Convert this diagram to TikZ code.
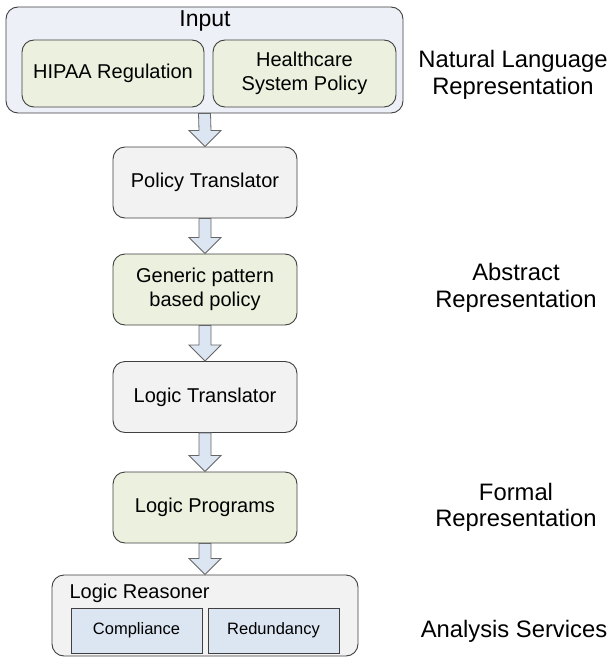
\documentclass[tikz,border=0pt]{standalone}
\usepackage{fontspec}
\setmainfont{Liberation Sans}
\usetikzlibrary{calc}
\definecolor{bordc}{HTML}{404040}
\definecolor{inpfill}{HTML}{EEF0F7}
\definecolor{greenf}{HTML}{EBF1DE}
\definecolor{grayf}{HTML}{F2F2F2}
\definecolor{bluef}{HTML}{DCE6F2}
\tikzset{
  base/.style={draw=bordc, line width=0.9pt, rectangle, inner sep=0pt, align=center},
  outerbox/.style={base, rounded corners=12pt},
  greenbox/.style={base, fill=greenf, rounded corners=12pt, font=\fontsize{20}{24}\selectfont},
  graybox/.style={base, fill=grayf, rounded corners=12pt, font=\fontsize{20}{24}\selectfont},
  svcbox/.style={base, fill=bluef, minimum width=131pt, minimum height=45pt, font=\fontsize{16.5}{20}\selectfont},
  flowbox/.style={minimum width=184pt, minimum height=71pt},
  sidelabel/.style={align=center, font=\fontsize{23.8}{26.5}\selectfont},
  arr/.style={draw=bordc!80, line width=0.8pt, fill=bluef, line join=miter}
}
\newcommand{\blockarr}[2]{%
  \path[arr] ($(#1.south)+(-6,0)$) -- ($(#2.north)+(-6,-16)$) -- ($(#2.north)+(-16,-16)$)
    -- (#2.north) -- ($(#2.north)+(16,-16)$) -- ($(#2.north)+(6,-16)$) -- ($(#1.south)+(6,0)$) -- cycle;}
\begin{document}
\begin{tikzpicture}[x=1pt, y=-1pt]
\useasboundingbox (0,0) rectangle (611,666);
\fill[white] (0,0) rectangle (611,666);
% Input group
\node[outerbox, fill=inpfill, minimum width=397pt, minimum height=106pt] (input) at (204.5,60) {};
\node[font=\fontsize{23}{26}\selectfont] (inputt) at (205,21) {Input};
\node[greenbox, minimum width=182pt, minimum height=67pt] (hipaa) at (113,73.5) {HIPAA Regulation};
\node[greenbox, minimum width=183pt, minimum height=67pt] (hsp) at (304.5,73.5) {Healthcare\\System Policy};
% flow
\node[graybox, flowbox] (pt) at (205,182.5) {Policy Translator};
\node[greenbox, flowbox] (gp) at (205,289.5) {Generic pattern\\based policy};
\node[graybox, flowbox] (lt) at (205,397) {Logic Translator};
\node[greenbox, flowbox] (lp) at (205,507.5) {Logic Programs};
% Logic reasoner
\node[outerbox, fill=grayf, minimum width=306pt, minimum height=81pt] (lr) at (205,615.5) {};
\node[anchor=west, font=\fontsize{20}{24}\selectfont] (lrt) at (66,593) {Logic Reasoner};
\node[svcbox] (comp) at (136.5,630.5) {Compliance};
\node[svcbox] (red) at (273.5,630.5) {Redundancy};
% arrows
\blockarr{input}{pt}
\blockarr{pt}{gp}
\blockarr{gp}{lt}
\blockarr{lt}{lp}
\blockarr{lp}{lr}
% side labels
\node[sidelabel] (s1) at (513,75) {Natural Language\\Representation};
\node[sidelabel] (s2) at (516,288) {Abstract\\Representation};
\node[sidelabel] (s3) at (516,507.5) {Formal\\Representation};
\node[sidelabel] (s4) at (514,631) {Analysis Services};
\end{tikzpicture}
\end{document}
